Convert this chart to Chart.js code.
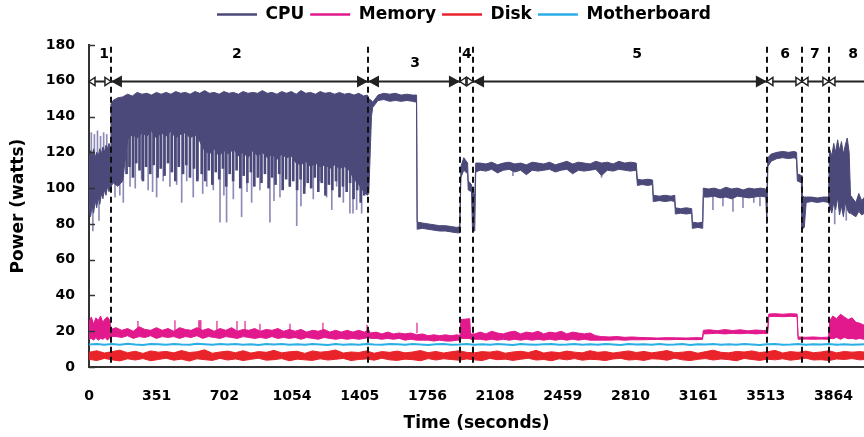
<!DOCTYPE html>
<html>
<head>
<meta charset="utf-8">
<script src="https://cdn.jsdelivr.net/npm/chart.js@4.4.1/dist/chart.umd.min.js"></script>
<style>
  html, body { margin: 0; padding: 0; background: #fff; }
  #wrap { width: 864px; height: 437px; }
</style>
</head>
<body>
<div id="wrap"><canvas id="power" width="864" height="437"></canvas></div>
<script>
// Legend entries and colours
const seriesNames = ['CPU', 'Memory', 'Disk', 'Motherboard'];
const seriesColors = ['#4b4979', '#e2198c', '#e8232a', '#2aaee6'];

// X axis tick positions (seconds) and their printed labels
const xTickValues = [0, 351.25, 702.5, 1053.75, 1405, 1756.25, 2107.5, 2458.75, 2810, 3161.25, 3512.5, 3863.75];
const xTickLabels = ['0', '351', '702', '1054', '1405', '1756', '2108', '2459', '2810', '3161', '3513', '3864'];

// Benchmark phases: start times (s), labels, label positions
const phaseBounds = [0, 114, 1448, 1925, 1993, 3518, 3700, 3840];
const phaseLabels = ['1', '2', '3', '4', '5', '6', '7', '8'];
const phaseLabelTime = [78, 768, 1692, 1961, 2844, 3612, 3767, 3965];
const phaseLabelLevel = [175, 175, 170, 175, 175, 175, 175, 175];

// CPU power: upper and lower edge of the trace (watts)
const cpuTime = [
  0, 8, 16, 24, 32, 40, 48, 56, 64, 72, 80, 88, 96, 104, 110,
  114, 125, 150, 175, 200, 225, 250, 275, 300, 325, 350, 375, 400, 425, 450, 475, 500, 525, 550, 575,
  600, 625, 650, 675, 700, 725, 750, 775, 800, 825, 850, 875, 900, 925, 950, 975, 1000, 1025, 1050, 1075,
  1100, 1125, 1150, 1175, 1200, 1225, 1250, 1275, 1300, 1325, 1350, 1375, 1400, 1425, 1445,
  1452, 1466, 1472, 1500, 1530, 1560, 1590, 1620, 1650, 1680, 1700, 1703, 1730, 1760, 1790, 1820, 1850, 1880, 1910, 1924,
  1930, 1945, 1965, 1968, 1985, 1990, 2002, 2007,
  2030, 2060, 2090, 2120, 2150, 2180, 2210, 2240, 2270, 2300, 2330, 2360, 2390, 2420, 2450, 2480, 2510, 2540, 2570, 2600,
  2630, 2660, 2690, 2720, 2750, 2780, 2810, 2840,
  2846, 2870, 2900, 2925, 2928, 2960, 2990, 3020, 3040, 3043, 3070, 3100, 3128, 3131, 3160, 3185,
  3188, 3215, 3245, 3275, 3305, 3335, 3365, 3395, 3425, 3455, 3485, 3512,
  3518, 3523, 3540, 3570, 3600, 3630, 3660, 3672, 3676, 3697, 3700, 3712, 3722, 3750, 3780, 3810, 3838,
  3843, 3855, 3865, 3875, 3885, 3895, 3905, 3915, 3925, 3935, 3945, 3952, 3965, 3980, 3995, 4010, 4025
];
const cpuHigh = [
  116, 121, 118, 122, 117, 120, 118, 122, 119, 123, 120, 124, 122, 125, 123,
  147, 149, 150.5, 151, 152.5, 151.5, 153.5, 152.5, 153, 152, 153.5, 152.5, 153.5, 152.5, 154, 153, 153.5, 152.5, 154, 153,
  154.5, 153, 153.5, 152.5, 154, 153, 153.5, 152.5, 154, 153, 153.5, 153, 154.5, 153, 153.5, 152.5, 154, 153, 154, 152.5,
  154.5, 153, 153.5, 152.5, 154, 153, 153.5, 152.5, 153.5, 152.5, 153, 152, 153, 151.5, 152,
  150, 149, 148, 152, 153, 152.5, 153, 152, 152.5, 152, 152, 81, 80.5, 80, 79.5, 79, 79, 78.5, 78, 78.5,
  112, 117, 114, 104, 102, 98, 96, 114,
  114, 113.5, 114.5, 113, 114, 114.5, 113.5, 114, 113, 114.5, 114, 113.5, 114.5, 113, 114, 115, 113.5, 114.5, 114, 113.5,
  115, 114, 114.5, 113.5, 115, 114, 114.5, 114,
  105, 104.5, 105, 104.5, 96, 95.5, 96, 95.5, 96, 89, 88.5, 89, 88.5, 81, 80.5, 81,
  100, 99.5, 100, 99, 100.5, 99.5, 100, 99, 100, 99.5, 100, 99.5,
  97, 117, 119, 120, 120.5, 120, 120.5, 120, 108, 107, 96, 95, 95, 95, 94.5, 95, 95,
  122, 118, 125, 120, 127, 121, 126, 119, 124, 128, 120, 96, 94, 92, 97, 93, 95
];
const cpuLow = [
  88, 84, 90, 86, 93, 89, 95, 91, 97, 94, 99, 96, 101, 98, 100,
  100, 103, 101, 104, 127, 130, 128, 131, 129, 132, 128, 131, 129, 132, 128, 130, 131, 128, 130, 126,
  121, 119, 122, 118, 121, 119, 122, 118, 120, 117, 121, 118, 120, 117, 119, 116, 119, 117, 118, 114,
  113, 115, 112, 114, 112, 113, 111, 113, 111, 112, 110, 105, 102, 98, 96,
  97, 140, 145, 149, 149.5, 148.5, 149, 148.5, 149, 148.5, 148, 77, 77.5, 77, 76.5, 76, 76, 75.5, 75, 75,
  106, 110, 108, 99, 98, 77, 76, 109,
  110, 109.5, 110.5, 108.5, 110, 110.5, 109, 110, 107.5, 110, 109.5, 110, 110.5, 109, 110, 110.5, 108, 110, 109.5, 110,
  110.5, 107, 110, 109.5, 110.5, 110, 109.5, 110,
  101.5, 102, 101.5, 102, 92.5, 93, 92.5, 93, 92.5, 85.5, 86, 85.5, 86, 77.5, 78, 77.5,
  95, 95, 95.5, 94.5, 95, 94, 95.5, 95, 94.5, 95, 95.5, 95,
  80, 112, 115, 116.5, 117, 116.5, 117, 116, 104, 103, 77, 78, 92, 92.5, 92, 92.5, 92,
  90, 86, 92, 88, 95, 85, 90, 84, 92, 88, 86, 86, 85, 84, 87, 85, 86
];

// Dense dark drops below the CPU band in phase 2
const darkSpikeTime = [
  195, 210, 228, 245, 262, 280, 296, 318, 336, 356, 372, 392, 410, 430, 448, 466, 488, 505, 524, 545, 562,
  585, 603, 622, 640, 658, 676, 695, 712, 730, 748, 766, 785, 803, 822, 840, 858, 876, 895, 913, 932, 950,
  968, 987, 1005, 1023, 1042,
  1060, 1080, 1098, 1117, 1135, 1153, 1172, 1190, 1208, 1227, 1245, 1263, 1282, 1300, 1318, 1337, 1355,
  1373, 1392, 1410, 1428
];
const darkSpikeLow = [
  108, 112, 106, 114, 110, 104, 112, 108, 113, 106, 111, 107, 114, 109, 104, 112, 108, 113, 106, 111, 104,
  108, 104, 110, 102, 109, 105, 111, 101, 108, 104, 110, 100, 107, 103, 109, 101, 106, 103, 108, 100, 106,
  102, 108, 99, 105, 101,
  104, 99, 105, 97, 103, 100, 106, 98, 103, 96, 102, 99, 104, 95, 101, 98, 103,
  94, 99, 92, 96
];

// Thin light CPU excursions outside the dense band
const spikeTime = [
  12, 28, 44, 60, 76, 92, 20, 52,
  135, 178, 213, 273, 307, 351, 385, 420, 481, 507, 541, 566, 611, 645, 680, 714, 749, 792, 844, 887,
  939, 991, 1043, 1078, 1121, 1164, 1199, 1233, 1285, 1320, 1354, 1389, 1415,
  160, 240, 330, 455, 590, 700, 820, 960, 1100, 1260, 1370,
  2200, 2660, 3238, 3290, 3342, 3394, 3450, 3482, 3870, 3930
];
const spikeLow = [
  112, 110, 113, 111, 113, 115, 76, 82,
  95, 92, 101, 105, 99, 95, 104, 101, 92, 104, 95, 105, 101, 99, 81, 81, 94, 84, 92, 99,
  81, 95, 101, 79, 101, 94, 104, 95, 101, 92, 86, 88, 86,
  96, 100, 98, 102, 97, 96, 98, 93, 90, 88, 86,
  107, 106, 88, 90, 87, 89, 92, 90, 80, 82
];
const spikeHigh = [
  131, 130, 132, 129, 131, 130, 100, 100,
  140, 140, 140, 140, 140, 140, 140, 140, 140, 140, 140, 140, 140, 140, 140, 140, 140, 140, 140, 140,
  140, 140, 140, 140, 140, 140, 140, 140, 140, 140, 140, 140, 140,
  140, 140, 140, 140, 140, 140, 140, 140, 140, 140, 140,
  112, 112, 97, 97, 97, 97, 97, 97, 110, 110
];

// Memory power band
const memTime = [
  0, 12, 24, 36, 48, 60, 72, 84, 96, 108,
  114, 140, 170, 200, 230, 260, 290, 320, 350, 380, 410, 440, 470, 500, 530, 560, 590, 620, 650, 680,
  710, 740, 770, 800, 830, 860, 890, 920, 950, 980, 1010, 1040, 1070, 1100, 1130, 1160, 1190, 1220, 1250, 1280,
  1310, 1340, 1370, 1400, 1430,
  1450, 1460, 1490, 1520, 1550, 1580, 1610, 1640, 1670, 1700, 1730, 1760, 1790, 1820, 1850, 1880, 1910, 1925,
  1930, 1976, 1980, 2000,
  2030, 2060, 2090, 2120, 2150, 2180, 2210, 2240, 2270, 2300, 2330, 2360, 2390, 2420, 2450, 2480, 2510, 2540, 2570, 2600,
  2630, 2660, 2700, 2740, 2780, 2820, 2860, 2900, 2950, 3000, 3050, 3100, 3150, 3184,
  3188, 3220, 3260, 3300, 3340, 3380, 3420, 3460, 3500, 3522,
  3528, 3560, 3600, 3640, 3675, 3680, 3720, 3760, 3800, 3838,
  3845, 3860, 3880, 3900, 3920, 3940, 3960, 3980, 4000, 4020, 4040
];
const memHigh = [
  25, 28, 24, 27.5, 26, 28.5, 25, 27, 28, 26,
  21, 22, 20.5, 21.5, 20, 22.5, 21, 20.5, 22, 20.5, 21.5, 20, 22, 21, 20.5, 22, 20.5, 21.5, 20, 21.5,
  20.5, 22, 20, 21, 20.5, 21.5, 20, 21, 20.5, 21.5, 20, 21, 20, 21, 19.5, 20.5, 20, 21, 19.5, 20.5,
  19.5, 20.5, 19.5, 20.5, 19.5,
  21, 19, 19.5, 18.5, 19.5, 18.5, 19, 18.5, 19, 18, 18.5, 17.5, 18, 17.5, 18, 17.5, 18, 17.5,
  26.5, 27, 18.5, 18.5,
  19.5, 18.5, 20, 19, 18.5, 19.5, 20, 18.5, 19.5, 19, 20, 18.5, 19.5, 19, 20, 18.5, 19.5, 19, 18.5, 19,
  17.5, 17, 16.8, 17, 16.6, 16.8, 16.5, 16.4, 16.2, 16.4, 16.3, 16.2, 16.4, 16.3,
  20.5, 20.8, 20.3, 20.9, 20.4, 20.8, 20.2, 20.7, 20.4, 20.6,
  29.6, 29.8, 29.5, 29.8, 29.6, 16.8, 16.6, 16.8, 16.5, 16.7,
  26, 28.5, 27, 29.5, 28, 26.5, 27.5, 25, 24.5, 23.5, 24
];
const memLow = [
  15.5, 16, 15, 16.5, 15, 16, 15.5, 16.5, 15, 16.5,
  17, 17, 16.5, 17.5, 16, 17, 16.5, 17.5, 16, 17, 16.5, 17, 16, 17, 16.5, 17.5, 16, 17, 16.5, 16,
  17, 16.5, 16, 17, 16.5, 16, 16.5, 16, 17, 16, 16.5, 16, 16.5, 15.5, 16.5, 16, 15.5, 16.5, 16, 15.5,
  16, 15.5, 16, 15.5, 16,
  16.5, 16, 16, 15.5, 16, 15.5, 16, 15, 15.5, 15, 15, 15, 14.5, 15, 14.5, 14.5, 15, 15,
  16, 16, 15.5, 15.5,
  15.5, 15, 15.5, 15, 15.5, 15, 15.5, 15, 15.5, 15, 15.5, 15, 15.5, 15, 15.5, 15, 15.5, 15, 15.5, 15,
  15, 15, 15, 15.2, 15, 15.2, 15.2, 15.3, 15.4, 15.2, 15.4, 15.3, 15.3, 15.4,
  18.5, 18.6, 18.9, 18.5, 18.8, 18.6, 18.9, 18.5, 18.8, 18.6,
  28.2, 28.3, 28.1, 28.3, 28.2, 15.5, 15.6, 15.5, 15.6, 15.5,
  16, 15.8, 16.5, 15.5, 16.5, 15.8, 16, 15.5, 16, 15.5, 16
];
const memSpikeTime = [254, 446, 570, 575, 580, 664, 768, 810, 887, 1043, 1214, 1443, 1702];
const memSpikeHigh = [25.5, 26, 26, 26, 26, 25.5, 25.5, 25.5, 24, 24, 24.6, 23.5, 24.6];

// Disk and motherboard, sampled every 40 s
const sampleStep = 40;
const diskHigh = [
  8.2, 9.1, 7.8, 8.6, 9.4, 8.0, 8.8, 7.6, 9.0, 8.3,
  8.7, 7.9, 9.2, 8.1, 8.5, 9.6, 7.7, 8.4, 8.9, 8.0,
  9.1, 7.8, 8.6, 8.2, 9.3, 7.9, 8.5, 8.8, 7.6, 9.0,
  8.3, 8.7, 9.5, 7.8, 8.4, 8.1, 9.0, 7.7, 8.6, 8.2,
  8.9, 7.9, 8.4, 9.2, 8.0, 8.7, 7.8, 8.5, 9.1, 8.2,
  7.9, 8.6, 8.3, 9.0, 7.7, 8.4, 8.8, 8.1, 9.3, 7.8,
  8.5, 8.0, 8.9, 8.3, 7.9, 9.1, 8.2, 8.6, 7.8, 8.4,
  9.0, 8.1, 8.7, 7.9, 8.5, 9.2, 8.0, 8.3, 8.8, 7.7,
  8.6, 9.4, 8.2, 7.9, 8.7, 8.4, 9.0, 8.1, 8.5, 9.3,
  7.8, 8.6, 8.2, 8.9, 8.0, 8.4, 9.1, 7.9, 8.7, 8.3,
  8.6, 8.2
];
const diskLow = [
  4.3, 3.6, 4.8, 4.0, 3.4, 4.6, 3.9, 4.7, 3.5, 4.2,
  4.9, 3.8, 4.4, 3.3, 4.6, 4.1, 3.7, 4.8, 3.9, 4.5,
  3.6, 4.3, 4.9, 3.8, 4.1, 4.7, 3.5, 4.4, 4.0, 3.7,
  4.6, 3.9, 4.3, 4.8, 3.6, 4.2, 4.5, 3.8, 4.9, 4.0,
  3.7, 4.4, 4.1, 3.5, 4.7, 3.9, 4.6, 4.2, 3.8, 4.5,
  4.0, 3.6, 4.8, 4.1, 4.4, 3.7, 4.3, 4.9, 3.9, 4.2,
  3.5, 4.6, 4.0, 4.7, 3.8, 4.3, 4.1, 3.6, 4.5, 4.8,
  3.9, 4.2, 3.7, 4.6, 4.4, 3.8, 4.9, 4.0, 3.6, 4.3,
  4.7, 3.9, 4.5, 4.1, 3.5, 4.8, 4.2, 3.7, 4.4, 4.0,
  4.6, 3.8, 4.3, 4.9, 3.9, 4.1, 3.6, 4.5, 4.2, 4.7,
  4.0, 4.3
];
const mbValue = [
  12.6, 12.9, 12.4, 12.8, 12.5, 13.0, 12.6, 12.3, 12.8, 12.7,
  12.4, 12.9, 12.6, 12.5, 13.0, 12.7, 12.4, 12.8, 12.6, 12.9,
  12.5, 12.7, 12.3, 12.8, 12.6, 12.9, 12.5, 12.7, 12.4, 12.8,
  12.6, 12.3, 12.9, 12.5, 12.7, 12.4, 12.8, 12.6, 12.5, 12.9,
  12.7, 12.4, 12.8, 12.6, 12.3, 12.7, 12.9, 12.5, 12.6, 12.8,
  12.4, 12.7, 12.5, 12.9, 12.6, 12.3, 12.8, 12.6, 12.4, 12.7,
  12.9, 12.5, 12.6, 12.8, 12.4, 12.7, 12.5, 12.9, 12.6, 12.3,
  12.8, 12.6, 12.7, 12.4, 12.9, 12.5, 12.6, 12.8, 12.3, 12.7,
  12.6, 12.9, 12.4, 12.7, 12.5, 12.8, 12.6, 12.3, 12.7, 12.9,
  12.5, 12.6, 12.8, 12.4, 12.7, 12.6, 12.9, 12.5, 12.7, 12.4,
  12.6, 12.8
];

const FONT = "'DejaVu Sans', 'Liberation Sans', sans-serif";

function pairs(times, values) {
  return times.map((t, i) => ({x: t, y: values[i]}));
}

function sampled(values) {
  return values.map((v, i) => ({x: i * sampleStep, y: v}));
}

function bandEdge(label, data, color, fill, order) {
  return {
    type: 'line', label: label, data: data,
    borderColor: color, backgroundColor: color, borderWidth: 1,
    pointRadius: 0, tension: 0, fill: fill, order: order
  };
}

function spikeBars(times, lows, highs, color, width, order) {
  return {
    type: 'bar', label: '',
    data: times.map((t, i) => ({x: t, y: [lows[i], highs[i]]})),
    backgroundColor: color, borderWidth: 0,
    barThickness: width, grouped: false, order: order
  };
}

// Phase markers: dashed separators, double arrows, numbers; also inward y ticks
const phaseMarks = {
  id: 'phaseMarks',
  afterDatasetsDraw(chart) {
    const {ctx, chartArea, scales} = chart;
    const x = scales.x, y = scales.y;
    ctx.save();

    ctx.strokeStyle = '#333';
    ctx.lineWidth = 1.5;
    y.ticks.forEach(t => {
      const py = Math.round(y.getPixelForValue(t.value)) + 0.5;
      ctx.beginPath();
      ctx.moveTo(chartArea.left, py);
      ctx.lineTo(chartArea.left + 6, py);
      ctx.stroke();
    });

    // dashed lines
    ctx.strokeStyle = '#111';
    ctx.lineWidth = 2;
    ctx.setLineDash([6, 4]);
    const yTop = y.getPixelForValue(179);
    phaseBounds.slice(1).forEach(t => {
      const px = Math.round(x.getPixelForValue(t));
      ctx.beginPath();
      ctx.moveTo(px, yTop);
      ctx.lineTo(px, chartArea.bottom);
      ctx.stroke();
    });
    ctx.setLineDash([]);

    // arrow line
    const ay = Math.round(y.getPixelForValue(160)) + 0.5;
    ctx.strokeStyle = '#222';
    ctx.fillStyle = '#222';
    ctx.lineWidth = 2;
    ctx.beginPath();
    ctx.moveTo(x.getPixelForValue(0), ay);
    ctx.lineTo(chartArea.right, ay);
    ctx.stroke();

    const ends = phaseBounds.concat([x.max]);
    for (let i = 0; i < phaseBounds.length; i++) {
      const a = x.getPixelForValue(ends[i]);
      const b = x.getPixelForValue(ends[i + 1]);
      const wide = (b - a) > 40;
      const L = wide ? 11 : 6, H = wide ? 6 : 4;
      const heads = [[a, 1]];
      if (i < phaseBounds.length - 1) heads.push([b, -1]);
      heads.forEach(([tip, dir]) => {
        ctx.beginPath();
        ctx.moveTo(tip, ay);
        ctx.lineTo(tip + dir * L, ay - H);
        ctx.lineTo(tip + dir * L, ay + H);
        ctx.closePath();
        if (wide) {
          ctx.fill();
        } else {
          ctx.lineWidth = 1.5;
          ctx.fillStyle = '#fff';
          ctx.fill();
          ctx.stroke();
          ctx.fillStyle = '#222';
          ctx.lineWidth = 2;
        }
      });
    }

    ctx.fillStyle = '#000';
    ctx.font = 'bold 14px ' + FONT;
    ctx.textAlign = 'center';
    ctx.textBaseline = 'middle';
    phaseLabels.forEach((txt, i) => {
      ctx.fillText(txt, x.getPixelForValue(phaseLabelTime[i]), y.getPixelForValue(phaseLabelLevel[i]));
    });
    ctx.restore();
  }
};

// fixed legend band height, legend centred over the plot rather than the canvas
const legendPlace = {
  id: 'legendPlace',
  beforeLayout(chart) {
    const legend = chart.legend;
    if (legend && !legend._fixed) {
      const fit = legend.fit;
      legend.fit = function () { fit.call(this); this.height = 45; };
      legend._fixed = true;
    }
  },
  afterLayout(chart) {
    chart.legend.left = 64;
  }
};

const ctx = document.getElementById('power').getContext('2d');
new Chart(ctx, {
  type: 'line',
  data: {
    datasets: [
      bandEdge('CPU', pairs(cpuTime, cpuHigh), seriesColors[0], '+1', 1),
      bandEdge('', pairs(cpuTime, cpuLow), seriesColors[0], false, 1),
      spikeBars(spikeTime, spikeLow, spikeHigh, 'rgba(120, 118, 170, 0.85)', 1, 9),
      spikeBars(darkSpikeTime, darkSpikeLow, darkSpikeTime.map(() => 140), seriesColors[0], 2, 8),
      bandEdge('Memory', pairs(memTime, memHigh), seriesColors[1], '+1', 2),
      bandEdge('', pairs(memTime, memLow), seriesColors[1], false, 2),
      spikeBars(memSpikeTime, memSpikeTime.map(() => 19), memSpikeHigh, 'rgba(226, 25, 140, 0.7)', 1, 9),
      bandEdge('Disk', sampled(diskHigh), seriesColors[2], '+1', 4),
      bandEdge('', sampled(diskLow), seriesColors[2], false, 4),
      {
        type: 'line', label: 'Motherboard', data: sampled(mbValue),
        borderColor: seriesColors[3], borderWidth: 2, pointRadius: 0, fill: false, order: 3
      }
    ]
  },
  options: {
    responsive: false,
    animation: false,
    events: [],
    layout: { padding: 0 },
    plugins: {
      tooltip: { enabled: false },
      legend: {
        position: 'top',
        labels: {
          usePointStyle: true,
          pointStyleWidth: 40,
          padding: 6,
          color: '#000',
          font: { family: FONT, size: 17, weight: 'bold' },
          generateLabels: () => seriesNames.map((name, i) => ({
            text: name,
            fillStyle: seriesColors[i],
            strokeStyle: seriesColors[i],
            lineWidth: 2.5,
            pointStyle: 'line',
            hidden: false,
            fontColor: '#000'
          }))
        }
      }
    },
    scales: {
      x: {
        type: 'linear',
        min: 0,
        max: 4022,
        offset: false,
        // tick marks are hidden; tickLength only pushes the labels down
        grid: { display: false, drawTicks: true, tickLength: 15 },
        border: { display: true, color: '#333', width: 2 },
        afterBuildTicks: scale => { scale.ticks = xTickValues.map(v => ({value: v})); },
        afterFit: scale => { scale.height = 70; },
        ticks: {
          autoSkip: false,
          maxRotation: 0,
          padding: 6,
          color: '#000',
          font: { family: FONT, size: 14, weight: 'bold' },
          callback: (value, index) => xTickLabels[index]
        },
        title: {
          display: true,
          text: 'Time (seconds)',
          color: '#000',
          font: { family: FONT, size: 17, weight: 'bold' },
          padding: { top: 0, bottom: 3 }
        }
      },
      y: {
        min: 0,
        max: 180,
        grid: { display: false, drawTicks: false },
        border: { display: true, color: '#333', width: 2 },
        afterFit: scale => { scale.width = 89; },
        ticks: {
          stepSize: 20,
          padding: 14,
          color: '#000',
          font: { family: FONT, size: 14, weight: 'bold' }
        },
        title: {
          display: true,
          text: 'Power (watts)',
          color: '#000',
          font: { family: FONT, size: 17, weight: 'bold' },
          padding: { top: 8, bottom: 0 }
        }
      }
    }
  },
  plugins: [phaseMarks, legendPlace]
});
</script>
</body>
</html>
